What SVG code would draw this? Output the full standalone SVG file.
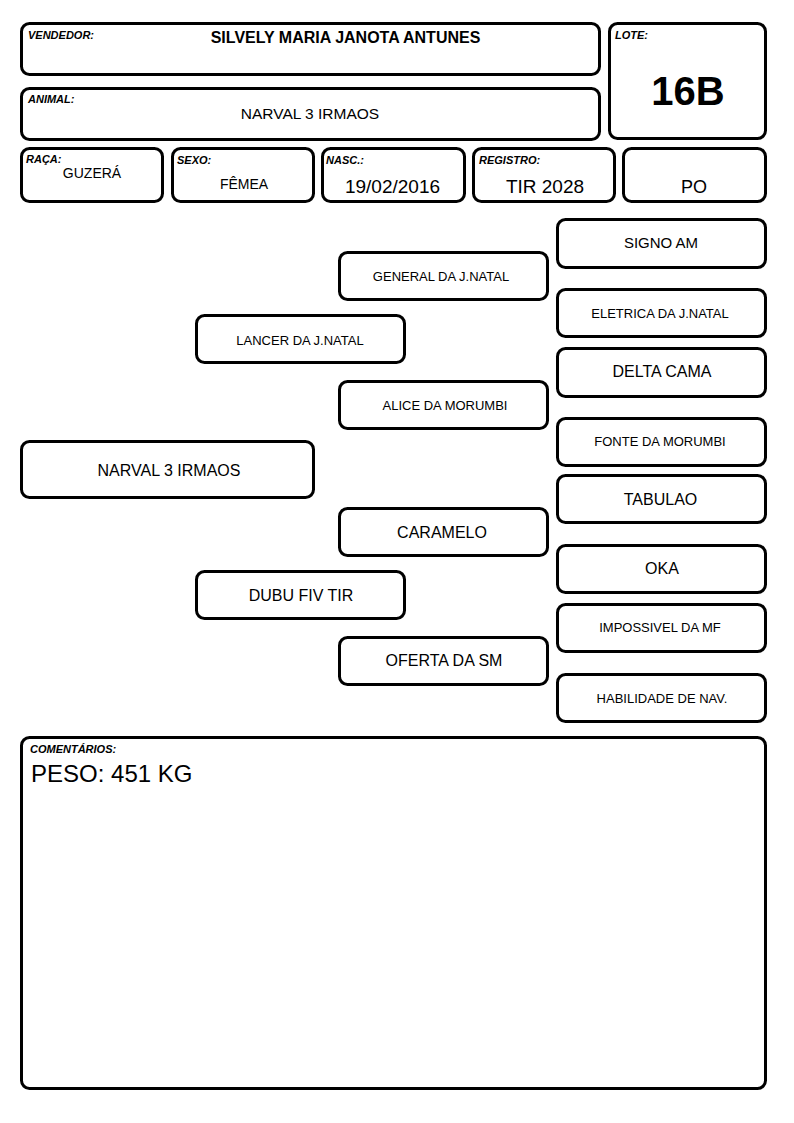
<svg xmlns="http://www.w3.org/2000/svg" width="794" height="1123" viewBox="0 0 794 1123">
<style>
.b{fill:#fff;stroke:#000;stroke-width:3;}
text{font-family:"Liberation Sans",Arial,sans-serif;fill:#000;}
.lbl{font-size:11px;font-weight:bold;font-style:italic;}
.v{text-anchor:middle;}
.s13{font-size:13px;}
.s16{font-size:16px;}
</style>
<rect width="794" height="1123" fill="#fff"/>
<g id="vendedor">
<rect class="b" x="21.5" y="23.5" width="578" height="51" rx="8"/>
<text class="lbl" x="28" y="39">VENDEDOR:</text>
<text class="v" x="345.5" y="43" font-size="16" font-weight="bold">SILVELY MARIA JANOTA ANTUNES</text>
</g>
<g id="animal">
<rect class="b" x="21.5" y="88.5" width="578" height="51" rx="8"/>
<text class="lbl" x="28" y="103">ANIMAL:</text>
<text class="v" x="310" y="119" font-size="15.5">NARVAL 3 IRMAOS</text>
</g>
<g id="lote">
<rect class="b" x="609.5" y="23.5" width="156" height="115" rx="8"/>
<text class="lbl" x="615" y="39">LOTE:</text>
<text class="v" x="688" y="105" font-size="40" font-weight="bold">16B</text>
</g>
<g id="raca">
<rect class="b" x="21.5" y="148.5" width="141" height="53" rx="8"/>
<text class="lbl" x="26" y="163">RAÇA:</text>
<text class="v" x="92" y="178" font-size="14">GUZERÁ</text>
</g>
<g id="sexo">
<rect class="b" x="172.5" y="148.5" width="141" height="53" rx="8"/>
<text class="lbl" x="177" y="164">SEXO:</text>
<text class="v" x="244" y="189" font-size="14">FÊMEA</text>
</g>
<g id="nasc">
<rect class="b" x="322.5" y="148.5" width="142" height="53" rx="8"/>
<text class="lbl" x="326" y="164">NASC.:</text>
<text class="v" x="392.5" y="193" font-size="19">19/02/2016</text>
</g>
<g id="registro">
<rect class="b" x="473.5" y="148.5" width="141" height="53" rx="8"/>
<text class="lbl" x="479" y="164">REGISTRO:</text>
<text class="v" x="545" y="193" font-size="19">TIR 2028</text>
</g>
<g id="po">
<rect class="b" x="623.5" y="148.5" width="142" height="53" rx="8"/>
<text class="v" x="694" y="193" font-size="18">PO</text>
</g>
<g id="signo-am">
<rect class="b" x="557.5" y="219.5" width="208" height="48" rx="8"/>
<text class="v" x="661" y="248" font-size="15">SIGNO AM</text>
</g>
<g id="general">
<rect class="b" x="339.5" y="252.5" width="208" height="47" rx="8"/>
<text class="v s13" x="441" y="281">GENERAL DA J.NATAL</text>
</g>
<g id="eletrica">
<rect class="b" x="557.5" y="289.5" width="208" height="47" rx="8"/>
<text class="v s13" x="660" y="318">ELETRICA DA J.NATAL</text>
</g>
<g id="lancer">
<rect class="b" x="196.5" y="315.5" width="208" height="47" rx="8"/>
<text class="v s13" x="300" y="345">LANCER DA J.NATAL</text>
</g>
<g id="delta-cama">
<rect class="b" x="557.5" y="348.5" width="208" height="48" rx="8"/>
<text class="v s16" x="662" y="377">DELTA CAMA</text>
</g>
<g id="alice">
<rect class="b" x="339.5" y="381.5" width="208" height="47" rx="8"/>
<text class="v s13" x="445" y="410">ALICE DA MORUMBI</text>
</g>
<g id="fonte">
<rect class="b" x="557.5" y="418.5" width="208" height="47" rx="8"/>
<text class="v s13" x="660" y="446">FONTE DA MORUMBI</text>
</g>
<g id="narval">
<rect class="b" x="21.5" y="441.5" width="292" height="56" rx="8"/>
<text class="v s16" x="169" y="476">NARVAL 3 IRMAOS</text>
</g>
<g id="tabulao">
<rect class="b" x="557.5" y="475.5" width="208" height="47" rx="8"/>
<text class="v s16" x="660.5" y="505">TABULAO</text>
</g>
<g id="caramelo">
<rect class="b" x="339.5" y="508.5" width="208" height="47" rx="8"/>
<text class="v s16" x="442" y="538">CARAMELO</text>
</g>
<g id="oka">
<rect class="b" x="557.5" y="545.5" width="208" height="47" rx="8"/>
<text class="v s16" x="662" y="574">OKA</text>
</g>
<g id="dubu">
<rect class="b" x="196.5" y="571.5" width="208" height="47" rx="8"/>
<text class="v s16" x="301" y="601">DUBU FIV TIR</text>
</g>
<g id="impossivel">
<rect class="b" x="557.5" y="604.5" width="208" height="47" rx="8"/>
<text class="v s13" x="660" y="632">IMPOSSIVEL DA MF</text>
</g>
<g id="oferta">
<rect class="b" x="339.5" y="637.5" width="208" height="47" rx="8"/>
<text class="v s16" x="444" y="666">OFERTA DA SM</text>
</g>
<g id="habilidade">
<rect class="b" x="557.5" y="674.5" width="208" height="47" rx="8"/>
<text class="v s13" x="662" y="703">HABILIDADE DE NAV.</text>
</g>
<g id="connectors"></g>
<g id="comentarios">
<rect class="b" x="21.5" y="737.5" width="744" height="351" rx="8"/>
<text class="lbl" x="30" y="753">COMENTÁRIOS:</text>
<text x="31" y="782" font-size="24">PESO: 451 KG</text>
</g>
</svg>
